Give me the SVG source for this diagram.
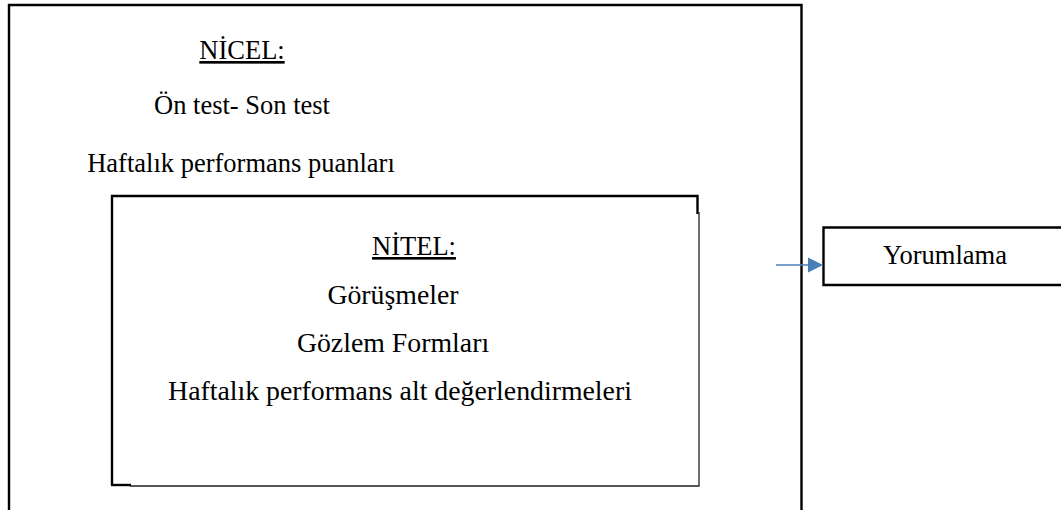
<svg xmlns="http://www.w3.org/2000/svg" width="1061" height="510" viewBox="0 0 1061 510">
  <style>
    .t { font-family: "Liberation Serif", "Times New Roman", serif; font-size: 26.5px; fill: #000; }
    .big { font-size: 27.8px; }
    .u { text-decoration: underline; }
    .thick { stroke: #000; stroke-width: 2.4; fill: none; }
    .thin { stroke: #222; stroke-width: 1.3; fill: none; }
    .link { stroke: #4a7ebb; stroke-width: 1.6; fill: none; }
  </style>
  <rect width="1061" height="510" fill="#fff"/>

  <!-- quantitative block -->
  <g id="nicel">
    <path class="thick" d="M9,520 V5 H801.5 V520"/>
    <text class="t u" x="242" y="59" text-anchor="middle">NİCEL:</text>
    <text class="t" x="242" y="114" text-anchor="middle">Ön test- Son test</text>
    <text class="t" x="241" y="172" text-anchor="middle">Haftalık performans puanları</text>
  </g>

  <!-- qualitative block -->
  <g id="nitel">
    <path class="thick" d="M112,485.5 V196 H697.5 V214"/>
    <path class="thick" d="M111,485 H131"/>
    <path class="thin" d="M699,212 V486 H130"/>
    <text class="t u" x="414" y="255" text-anchor="middle">NİTEL:</text>
    <text class="t big" x="393" y="304" text-anchor="middle">Görüşmeler</text>
    <text class="t big" x="393" y="352" text-anchor="middle">Gözlem Formları</text>
    <text class="t big" x="400" y="400" text-anchor="middle">Haftalık performans alt değerlendirmeleri</text>
  </g>

  <!-- interpretation -->
  <g id="yorumlama">
    <path class="thick" d="M1070,227.5 H823.5 V285 H1070"/>
    <text class="t" x="945" y="264" text-anchor="middle">Yorumlama</text>
  </g>

  <g id="connectors">
    <line class="link" x1="776" y1="265" x2="810" y2="265"/>
    <path d="M808,257.5 L823,265 L808,272.5 Z" fill="#4a7ebb"/>
  </g>
</svg>
